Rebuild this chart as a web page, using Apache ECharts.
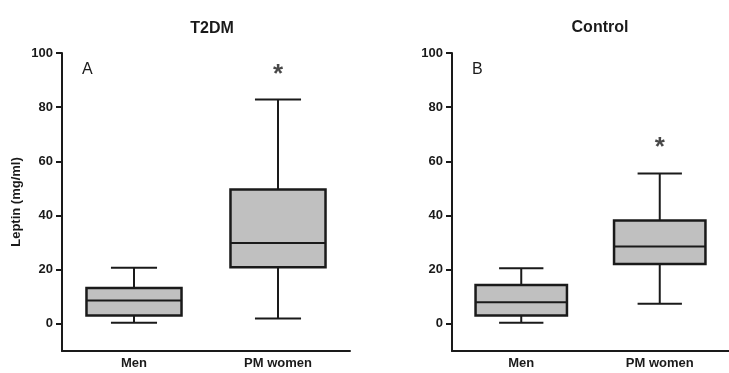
<!DOCTYPE html>
<html>
<head>
<meta charset="utf-8">
<style>
  html, body { margin: 0; padding: 0; background: #fff; }
  #chart { width: 729px; height: 373px; }
</style>
<script src="https://cdn.jsdelivr.net/npm/echarts@6/dist/echarts.min.js"></script>
</head>
<body>
<div id="chart"></div>
<script>
// data: [min, Q1, median, Q3, max]
const categories = ['Men', 'PM women'];
const t2dmBox = [[0.4, 3.1, 8.6, 13.3, 20.7], [2.0, 20.9, 29.9, 49.6, 82.8]];
const controlBox = [[0.4, 3.1, 8.0, 14.4, 20.5], [7.4, 22.1, 28.6, 38.2, 55.5]];
const t2dmStar = [[1, 92]];
const controlStar = [[1, 65]];
const yTicks = [0, 20, 40, 60, 80, 100];

const FONT = 'Liberation Sans, Arial, sans-serif';
const INK = '#1a1a1a';

function renderBox(params, api) {
    const x = api.value(0);
    const band = api.size([1, 0])[0];
    const bw = band * 0.66, cw = band * 0.32;
    const p = [1, 2, 3, 4, 5].map(function (i) { return api.coord([x, api.value(i)]); });
    const cx = p[0][0];
    const ls = { stroke: INK, lineWidth: 2 };
    return {
        type: 'group',
        children: [
            { type: 'line', shape: { x1: cx, y1: p[0][1], x2: cx, y2: p[1][1] }, style: ls },
            { type: 'line', shape: { x1: cx, y1: p[3][1], x2: cx, y2: p[4][1] }, style: ls },
            { type: 'line', shape: { x1: cx - cw / 2, y1: p[0][1], x2: cx + cw / 2, y2: p[0][1] }, style: ls },
            { type: 'line', shape: { x1: cx - cw / 2, y1: p[4][1], x2: cx + cw / 2, y2: p[4][1] }, style: ls },
            { type: 'rect', shape: { x: cx - bw / 2, y: p[3][1], width: bw, height: p[1][1] - p[3][1] },
              style: { fill: '#c0c0c0', stroke: INK, lineWidth: 2.5 } },
            { type: 'line', shape: { x1: cx - bw / 2, y1: p[2][1], x2: cx + bw / 2, y2: p[2][1] }, style: ls }
        ]
    };
}

function boxData(arr) {
    return arr.map(function (d, i) { return [i].concat(d); });
}

function xAxisOpt(idx) {
    return {
        type: 'category', gridIndex: idx, data: categories, boundaryGap: true,
        axisLine: { onZero: false, lineStyle: { color: INK, width: 2 } },
        axisTick: { alignWithLabel: true, length: 5, lineStyle: { color: INK, width: 2 } },
        axisLabel: { color: INK, fontFamily: FONT, fontWeight: 'bold', fontSize: 13, margin: 6 }
    };
}

function yAxisOpt(idx, name) {
    return {
        type: 'value', gridIndex: idx, min: -10, max: 100,
        name: name, nameLocation: 'middle', nameRotate: 90, nameGap: 39,
        nameTextStyle: { color: INK, fontFamily: FONT, fontWeight: 'bold', fontSize: 13 },
        splitLine: { show: false },
        axisLine: { show: true, lineStyle: { color: INK, width: 2 } },
        axisTick: { show: true, length: 6, customValues: yTicks, lineStyle: { color: INK, width: 2 } },
        axisLabel: { customValues: yTicks, color: INK, fontFamily: FONT, fontWeight: 'bold', fontSize: 13, margin: 9 }
    };
}

function starSeries(idx, data) {
    return {
        type: 'scatter', xAxisIndex: idx, yAxisIndex: idx, data: data,
        symbolSize: 1, itemStyle: { color: 'transparent' },
        label: { show: true, formatter: '*', position: 'inside', color: INK,
                 fontFamily: FONT, fontWeight: 'bold', fontSize: 26 }
    };
}

const chart = echarts.init(document.getElementById('chart'));
chart.setOption({
    animation: false,
    title: [
        { text: 'T2DM', left: 207, top: 16, textAlign: 'center',
          textStyle: { color: INK, fontFamily: FONT, fontWeight: 'bold', fontSize: 16 } },
        { text: 'Control', left: 595, top: 15, textAlign: 'center',
          textStyle: { color: INK, fontFamily: FONT, fontWeight: 'bold', fontSize: 16 } },
        { text: 'A', left: 77, top: 57,
          textStyle: { color: INK, fontFamily: FONT, fontWeight: 'normal', fontSize: 16 } },
        { text: 'B', left: 467, top: 57,
          textStyle: { color: INK, fontFamily: FONT, fontWeight: 'normal', fontSize: 16 } }
    ],
    grid: [
        { left: 62, top: 53, width: 288, bottom: 22 },
        { left: 452, top: 53, width: 285, bottom: 22 }
    ],
    xAxis: [xAxisOpt(0), xAxisOpt(1)],
    yAxis: [yAxisOpt(0, 'Leptin (mg/ml)'), yAxisOpt(1, '')],
    series: [
        { type: 'custom', xAxisIndex: 0, yAxisIndex: 0, renderItem: renderBox,
          encode: { x: 0, y: [1, 2, 3, 4, 5] }, data: boxData(t2dmBox) },
        { type: 'custom', xAxisIndex: 1, yAxisIndex: 1, renderItem: renderBox,
          encode: { x: 0, y: [1, 2, 3, 4, 5] }, data: boxData(controlBox) },
        starSeries(0, t2dmStar),
        starSeries(1, controlStar)
    ]
});
</script>
</body>
</html>
